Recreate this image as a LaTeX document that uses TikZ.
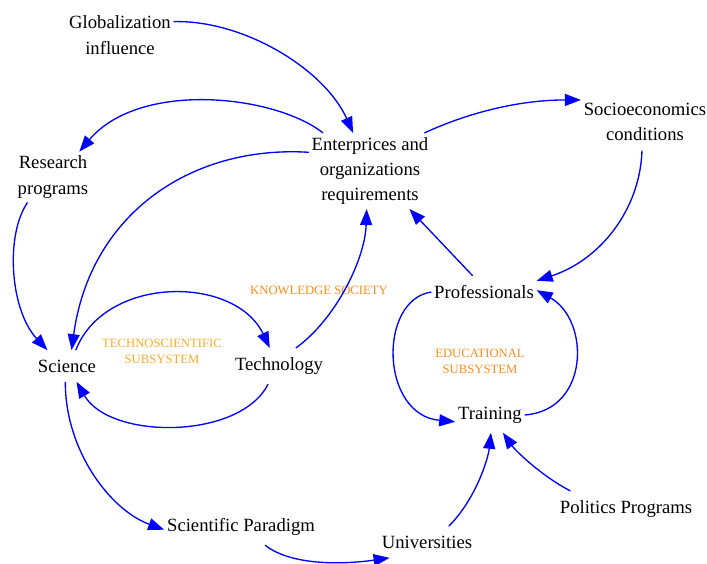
\documentclass[tikz,border=0pt]{standalone}
\usepackage{fontspec}
\setmainfont{Liberation Serif}
\usepackage{xcolor}
\usepackage{tikz}
\usetikzlibrary{arrows.meta,positioning,calc}
\definecolor{techorange}{RGB}{255,170,40}
\definecolor{knoworange}{RGB}{255,140,30}
\begin{document}
\begin{tikzpicture}[x=0.75pt,y=-0.75pt,
    var/.style={font=\fontsize{14}{19}\selectfont, align=center, inner xsep=2pt, inner ysep=7pt},
    flow/.style={blue, line width=1pt, -{Triangle[length=12pt,width=9pt]}},
    loopname/.style={font=\fontsize{9.5}{12}\selectfont, align=center}]
    \useasboundingbox (0,0) rectangle (707,564);

    % Variables
    \node[var] (glob) at (120,35) {Globalization\\influence};
    \node[var, inner ysep=3pt] (ent) at (370,171) {Enterprices and\\organizations\\requirements};
    \node[var, inner ysep=3pt] (res) at (53,177) {Research\\programs};
    \node[var] (soc) at (645,122) {Socioeconomics\\conditions};
    \node[var] (prof) at (484,292) {Professionals};
    \node[var] (train) at (490,415) {Training};
    \node[var] (sci) at (67,366) {Science};
    \node[var] (tech) at (279,366) {Technology};
    \node[var] (par) at (241,527) {Scientific Paradigm};
    \node[var] (uni) at (427,542) {Universities};
    \node[var] (pol) at (626,509) {Politics Programs};

    % Loop names
    \node[loopname, techorange] (techsub) at (162,351) {TECHNOSCIENTIFIC\\SUBSYSTEM};
    \node[loopname, knoworange] (know) at (319,290) {KNOWLEDGE SOCIETY};
    \node[loopname, knoworange] (edusub) at (480,361) {EDUCATIONAL\\SUBSYSTEM};

    % Causal links
    \draw[flow] (glob.14) .. controls (245,20) and (325,70) .. (ent.114);
    \draw[flow] (ent.141) .. controls (275,95) and (140,80) .. (res.44);
    \draw[flow] (ent.163) .. controls (190,145) and (90,215) .. (sci.74);
    \draw[flow] (res.225) .. controls (5,235) and (10,310) .. (sci.141);
    \draw[flow] (sci.61) .. controls (105,275) and (235,275) .. (tech.117);
    \draw[flow] (tech.239) .. controls (240,440) and (110,440) .. (sci.301);
    \draw[flow] (tech.47) .. controls (335,320) and (365,260) .. (ent.265);
    \draw[flow] (ent.35) .. controls (470,112) and (520,100) .. (soc.161);
    \draw[flow] (soc.264) .. controls (640,210) and (600,260) .. (prof.12);
    \draw[flow] (prof.125) -- (ent.316);
    \draw[flow] (prof.180) .. controls (378,300) and (380,415) .. (train.191);
    \draw[flow] (train.0) .. controls (590,410) and (590,320) .. (prof.2);
    \draw[flow] (sci.264) .. controls (65,450) and (110,510) .. (par.182);
    \draw[flow] (par.323) .. controls (290,565) and (340,565) .. (uni.203);
    \draw[flow] (uni.36) .. controls (475,500) and (488,460) .. (train.273);
    \draw[flow] (pol.162) .. controls (540,475) and (515,450) .. (train.306);
\end{tikzpicture}
\end{document}
